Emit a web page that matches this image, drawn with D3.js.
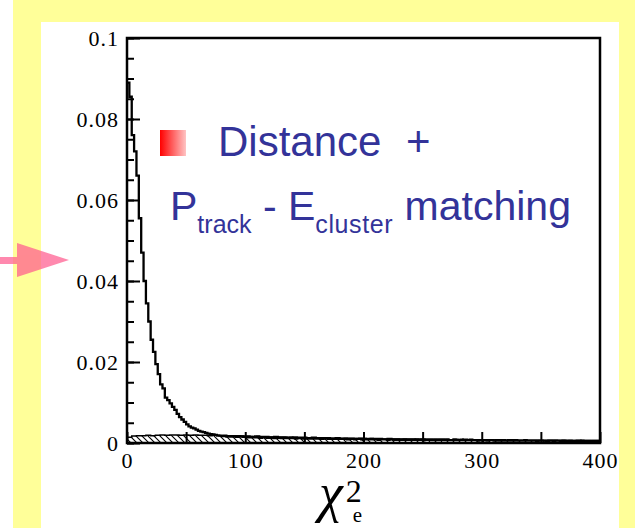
<!DOCTYPE html>
<html>
<head>
<meta charset="utf-8">
<script src="https://cdn.jsdelivr.net/npm/d3@7"></script>
<style>
  body { margin: 0; background: #fff; }
  svg { display: block; }
  .tick text { font-family: "Liberation Serif", "Times New Roman", serif; font-size: 22px; letter-spacing: 1px; fill: #000; }
  .blue { font-family: "Liberation Sans", Arial, sans-serif; fill: #333399; }
</style>
</head>
<body>
<div id="chart"></div>
<script>
// electron candidates, bins of 2 units from 0 to 400
const mainBinWidth = 2;
const mainValues = [
  0.089, 0.0855, 0.076, 0.072, 0.066, 0.0555, 0.047, 0.040, 0.0345, 0.030,
  0.0255, 0.0225, 0.0195, 0.017, 0.0145, 0.0135, 0.0112, 0.0106, 0.0098, 0.0089,
  0.0082, 0.0072, 0.0064, 0.0058, 0.0052, 0.0046, 0.0041, 0.0038, 0.0036, 0.0033,
  0.0030, 0.0028, 0.0027, 0.0025, 0.0023, 0.0022, 0.0021, 0.0020, 0.0019, 0.0018,
  0.0017, 0.0018, 0.0016, 0.0017, 0.0016, 0.0017, 0.0015, 0.0016, 0.0016, 0.0015,
  0.0015, 0.0014, 0.0015, 0.0014, 0.0014, 0.0015, 0.0013, 0.0014, 0.0014, 0.0013,
  0.0013, 0.0014, 0.0012, 0.0013, 0.0013, 0.0012, 0.0013, 0.0012, 0.0012, 0.0013,
  0.0012, 0.0011, 0.0012, 0.0012, 0.0011, 0.0012, 0.0011, 0.0011, 0.0012, 0.0011,
  0.0011, 0.0011, 0.0010, 0.0011, 0.0011, 0.0010, 0.0011, 0.0010, 0.0010, 0.0011,
  0.0010, 0.0010, 0.0011, 0.0009, 0.0010, 0.0010, 0.0009, 0.0010, 0.0010, 0.0009,
  0.0010, 0.0009, 0.0009, 0.0010, 0.0009, 0.0009, 0.0008, 0.0009, 0.0009, 0.0009,
  0.0008, 0.0009, 0.0009, 0.0008, 0.0009, 0.0008, 0.0008, 0.0009, 0.0008, 0.0008,
  0.0008, 0.0008, 0.0009, 0.0008, 0.0008, 0.0007, 0.0008, 0.0008, 0.0008, 0.0007,
  0.0008, 0.0007, 0.0008, 0.0008, 0.0007, 0.0008, 0.0007, 0.0007, 0.0008, 0.0007,
  0.0007, 0.0008, 0.0007, 0.0007, 0.0007, 0.0008, 0.0007, 0.0007, 0.0006, 0.0007,
  0.0007, 0.0007, 0.0006, 0.0007, 0.0007, 0.0006, 0.0007, 0.0006, 0.0007, 0.0006,
  0.0006, 0.0007, 0.0006, 0.0006, 0.0007, 0.0006, 0.0006, 0.0006, 0.0007, 0.0006,
  0.0006, 0.0006, 0.0006, 0.0005, 0.0006, 0.0006, 0.0006, 0.0005, 0.0006, 0.0006,
  0.0005, 0.0006, 0.0006, 0.0005, 0.0006, 0.0005, 0.0005, 0.0006, 0.0005, 0.0005,
  0.0005, 0.0005, 0.0006, 0.0005, 0.0005, 0.0005, 0.0004, 0.0005, 0.0005, 0.0005
];

// hatched background histogram, bins of 4 units
const bgBinWidth = 4;
const bgValues = [
  0.0014, 0.0017, 0.0018, 0.0018, 0.0019, 0.0018, 0.0019, 0.0020, 0.0019, 0.0020,
  0.0020, 0.0019, 0.0020, 0.0019, 0.0020, 0.0019, 0.0019, 0.0018, 0.0019, 0.0018,
  0.0018, 0.0018, 0.0017, 0.0018, 0.0017, 0.0017, 0.0016, 0.0017, 0.0016, 0.0016,
  0.0015, 0.0016, 0.0015, 0.0015, 0.0014, 0.0015, 0.0014, 0.0014, 0.0013, 0.0014,
  0.0013, 0.0013, 0.0013, 0.0012, 0.0013, 0.0012, 0.0012, 0.0012, 0.0011, 0.0012,
  0.0011, 0.0011, 0.0011, 0.0011, 0.0010, 0.0011, 0.0010, 0.0010, 0.0010, 0.0010,
  0.0010, 0.0009, 0.0010, 0.0009, 0.0009, 0.0009, 0.0009, 0.0009, 0.0008, 0.0009,
  0.0008, 0.0009, 0.0008, 0.0008, 0.0008, 0.0008, 0.0008, 0.0007, 0.0008, 0.0008,
  0.0007, 0.0008, 0.0007, 0.0007, 0.0007, 0.0007, 0.0007, 0.0007, 0.0006, 0.0007,
  0.0007, 0.0006, 0.0007, 0.0006, 0.0006, 0.0007, 0.0006, 0.0006, 0.0006, 0.0006
];

const yMajorTicks = [0, 0.02, 0.04, 0.06, 0.08, 0.1];
const yTickLabels = ["0", "0.02", "0.04", "0.06", "0.08", "0.1"];
const yMinorTicks = d3.range(0, 21).map(i => i * 0.005);
const xTicks = [0, 50, 100, 150, 200, 250, 300, 350, 400];
const xTickLabels = ["0", "", "100", "", "200", "", "300", "", "400"];

const W = 635, H = 528;
const x = d3.scaleLinear().domain([0, 400]).range([127, 600]);
const y = d3.scaleLinear().domain([0, 0.1]).range([443, 38]);

const svg = d3.select("#chart").append("svg")
  .attr("width", W)
  .attr("height", H);

// slide background
svg.append("rect").attr("width", W).attr("height", H).attr("fill", "#fff");
svg.append("rect").attr("x", 13).attr("y", 0).attr("width", W - 13).attr("height", H).attr("fill", "#ffff99");
svg.append("rect").attr("x", 41).attr("y", 22).attr("width", 578).attr("height", H - 22).attr("fill", "#fff");

const defs = svg.append("defs");
const hatch = defs.append("pattern")
  .attr("id", "hatch")
  .attr("patternUnits", "userSpaceOnUse")
  .attr("width", 6)
  .attr("height", 6);
hatch.append("path")
  .attr("d", "M0,0 L6,6 M-1,5 L1,7 M5,-1 L7,1")
  .attr("stroke", "#000")
  .attr("stroke-width", 1.1);

const grad = defs.append("linearGradient").attr("id", "bullet");
grad.append("stop").attr("offset", "0%").attr("stop-color", "#ff0000");
grad.append("stop").attr("offset", "100%").attr("stop-color", "#ffc4c4");

// step points
const toSteps = (vals, bw) => {
  const pts = vals.map((v, i) => [i * bw, v]);
  pts.push([vals.length * bw, vals[vals.length - 1]]);
  return pts;
};

const bgPts = toSteps(bgValues, bgBinWidth);
const mainPts = toSteps(mainValues, mainBinWidth);

const area = d3.area()
  .x(d => x(d[0]))
  .y0(y(0))
  .y1(d => y(d[1]))
  .curve(d3.curveStepAfter);

const line = d3.line()
  .x(d => x(d[0]))
  .y(d => y(d[1]))
  .curve(d3.curveStepAfter);

svg.append("path")
  .attr("d", area(bgPts))
  .attr("fill", "url(#hatch)");
svg.append("path")
  .attr("d", line(bgPts))
  .attr("fill", "none")
  .attr("stroke", "#000")
  .attr("stroke-width", 1.5);

svg.append("path")
  .attr("d", line(mainPts))
  .attr("fill", "none")
  .attr("stroke", "#000")
  .attr("stroke-width", 2.3);

// axes
svg.append("g")
  .attr("transform", `translate(${x(0)},0)`)
  .call(d3.axisLeft(y).tickValues(yMinorTicks).tickSizeInner(-7).tickSizeOuter(0).tickFormat(""))
  .call(g => g.select(".domain").remove())
  .call(g => g.selectAll("line").attr("stroke-width", 2));

svg.append("g")
  .attr("transform", `translate(${x(0)},0)`)
  .call(d3.axisLeft(y).tickValues(yMajorTicks).tickSizeInner(-13).tickSizeOuter(0).tickPadding(8)
    .tickFormat((d, i) => yTickLabels[i]))
  .call(g => g.select(".domain").remove())
  .call(g => g.selectAll("line").attr("stroke-width", 2))
  .call(g => g.selectAll("text").attr("font-family", null).attr("font-size", null));

svg.append("g")
  .attr("transform", `translate(0,${y(0)})`)
  .call(d3.axisBottom(x).tickValues(xTicks).tickSizeInner(-11).tickSizeOuter(0).tickPadding(9)
    .tickFormat((d, i) => xTickLabels[i]))
  .call(g => g.select(".domain").remove())
  .call(g => g.selectAll("line").attr("stroke-width", 2))
  .call(g => g.selectAll("text").attr("font-family", null).attr("font-size", null));

// frame
svg.append("rect")
  .attr("x", x(0)).attr("y", y(0.1))
  .attr("width", x(400) - x(0)).attr("height", y(0) - y(0.1))
  .attr("fill", "none")
  .attr("stroke", "#000")
  .attr("stroke-width", 2.5);

// axis title
const title = svg.append("text")
  .attr("x", 319).attr("y", 511)
  .attr("font-family", "'Liberation Serif', 'Times New Roman', serif")
  .attr("fill", "#000");
title.append("tspan").attr("font-size", 54).attr("font-style", "italic").text("χ");
title.append("tspan").attr("font-size", 32).attr("dx", 3).attr("dy", -9).text("2");
title.append("tspan").attr("font-size", 21).attr("dx", -9).attr("dy", 20).text("e");

// annotation
svg.append("rect").attr("x", 160).attr("y", 130).attr("width", 26).attr("height", 26).attr("fill", "url(#bullet)");
svg.append("text").attr("class", "blue").attr("x", 218).attr("y", 156).attr("font-size", 42).text("Distance");
svg.append("text").attr("class", "blue").attr("x", 406).attr("y", 156).attr("font-size", 42).text("+");

const t2 = svg.append("text").attr("class", "blue").attr("x", 170).attr("y", 220).attr("font-size", 41);
t2.append("tspan").text("P");
t2.append("tspan").attr("font-size", 25).attr("dy", 13).text("track");
t2.append("tspan").attr("dy", -13).text(" - E");
t2.append("tspan").attr("font-size", 25).attr("dy", 13).attr("letter-spacing", 0.6).text("cluster");
t2.append("tspan").attr("dy", -13).text(" matching");

// pink arrow
const arrow = svg.append("g").attr("fill", "#ff5c8f").attr("opacity", 0.72);
arrow.append("rect").attr("x", 0).attr("y", 257).attr("width", 18).attr("height", 7);
arrow.append("path").attr("d", "M17,243 L69,260 L17,277 Z");
</script>
</body>
</html>
